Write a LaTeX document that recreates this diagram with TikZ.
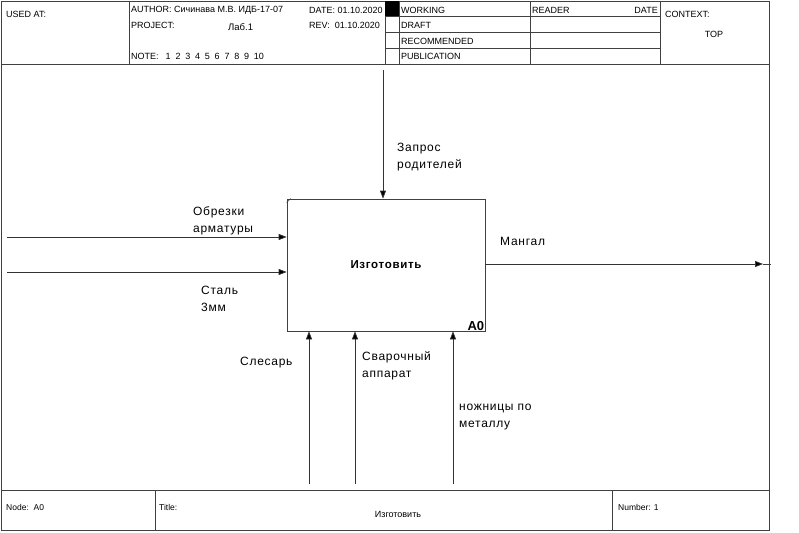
\documentclass[tikz,border=0pt]{standalone}
\usepackage{fontspec}
\setmainfont{Liberation Sans}
\newfontfamily\lblfont[LetterSpace=6]{Liberation Sans}
\usetikzlibrary{arrows.meta}

\tikzset{
  rule/.style={draw=black!75, line width=0.7pt},
  flow/.style={draw=black!80, line width=0.7pt, -{Triangle[length=8pt,width=6pt,fill=black]}},
  hdr/.style={anchor=west, inner sep=0pt, font=\fontsize{9}{10}\selectfont},
  ftr/.style={anchor=west, inner sep=0pt, font=\fontsize{8.5}{10}\selectfont},
  lbl/.style={anchor=west, inner sep=0pt, align=left, font=\lblfont\fontsize{12}{17}\selectfont},
  actbox/.style={draw=black!75, line width=0.7pt, minimum width=198pt, minimum height=132pt, inner sep=0pt}
}

\begin{document}
\begin{tikzpicture}[x=1pt,y=-1pt]
\useasboundingbox (0,0) rectangle (799,532);

% outer frame and the two horizontal bands
\draw[rule] (1,1) rectangle (769,530);
\draw[rule] (1,64) -- (769,64);
\draw[rule] (1,490) -- (769,490);

% header grid
\draw[rule] (129,1) -- (129,64);
\draw[rule] (385,1) -- (385,64);
\draw[rule] (399,1) -- (399,64);
\draw[rule] (530,1) -- (530,64);
\draw[rule] (660,1) -- (660,64);
\foreach \yy in {16,32,48} \draw[rule] (385,\yy) -- (660,\yy);
\fill[black] (385,1) rectangle (399,16);

% header texts
\node[hdr] (usedat) at (6,14) {USED AT:};
\node[hdr] (author) at (131,10) {AUTHOR: Сичинава М.В. ИДБ-17-07};
\node[hdr] (project) at (131,25) {PROJECT:};
\node[hdr, font=\fontsize{9.5}{11}\selectfont] (lab) at (228,27) {Лаб.1};
\node[hdr] (note) at (131,56) {NOTE:};
\foreach \i in {1,...,10} \node[hdr] (n\i) at ({165.5+9.8*(\i-1)},56) {\i};
\node[hdr] (date) at (309,10) {DATE: 01.10.2020};
\node[hdr] (rev) at (309,25) {REV:\ \ 01.10.2020};
\node[hdr] (working) at (401,10) {WORKING};
\node[hdr] (draft) at (401,25) {DRAFT};
\node[hdr] (recomm) at (401,41) {RECOMMENDED};
\node[hdr] (public) at (401,56) {PUBLICATION};
\node[hdr] (reader) at (532,10) {READER};
\node[hdr, anchor=east] (rdate) at (658,10) {DATE};
\node[hdr] (context) at (665,14) {CONTEXT:};
\node[hdr, anchor=center] (top) at (714,34) {TOP};

% footer
\draw[rule] (155,490) -- (155,530);
\draw[rule] (612,490) -- (612,530);
\node[ftr] (nodeid) at (6,507) {Node:\ \ A0};
\node[ftr] (title) at (159,507) {Title:};
\node[ftr, anchor=center, font=\fontsize{9}{11}\selectfont] (ttl) at (398,514) {Изготовить};
\node[ftr] (number) at (618,507) {Number: 1};

% activity box
\node[actbox] (A0) at (386,265) {};
\node[font=\lblfont\bfseries\fontsize{11.5}{14}\selectfont] (A0name) at (A0.center) {Изготовить};
\node[anchor=south east, inner sep=1pt, font=\bfseries\fontsize{13}{14}\selectfont] (A0id) at (A0.south east) {A0};
\draw[rule, line width=0.5pt] ([yshift=-4pt]A0.north west) -- ([xshift=4pt]A0.north west);

% inputs
\coordinate (in1) at (7,237);
\coordinate (in2) at (7,272);
\draw[flow] (in1) -- (in1 -| A0.west);
\draw[flow] (in2) -- (in2 -| A0.west);
\node[lbl] (l-in1) at (193,220.5) {Обрезки\\арматуры};
\node[lbl] (l-in2) at (201,298.5) {Сталь\\3мм};

% control
\coordinate (ctl) at (383,70);
\draw[flow] (ctl) -- (ctl |- A0.north);
\node[lbl] (l-ctl) at (397,157.5) {Запрос\\родителей};

% output
\coordinate (outtip) at (763,264);
\coordinate (outend) at (771,264);
\draw[flow] (outtip -| A0.east) -- (outtip);
\draw[rule] (outtip) -- (outend);
\node[lbl] (l-out) at (500,241) {Мангал};

% mechanisms
\coordinate (m1) at (309,484);
\coordinate (m2) at (355,484);
\coordinate (m3) at (453,484);
\draw[flow] (m1) -- (m1 |- A0.south);
\draw[flow] (m2) -- (m2 |- A0.south);
\draw[flow] (m3) -- (m3 |- A0.south);
\node[lbl] (l-m1) at (240,363) {Слесарь};
\node[lbl] (l-m2) at (362,366) {Сварочный\\аппарат};
\node[lbl] (l-m3) at (459,417.5) {ножницы по\\металлу};
\end{tikzpicture}
\end{document}
